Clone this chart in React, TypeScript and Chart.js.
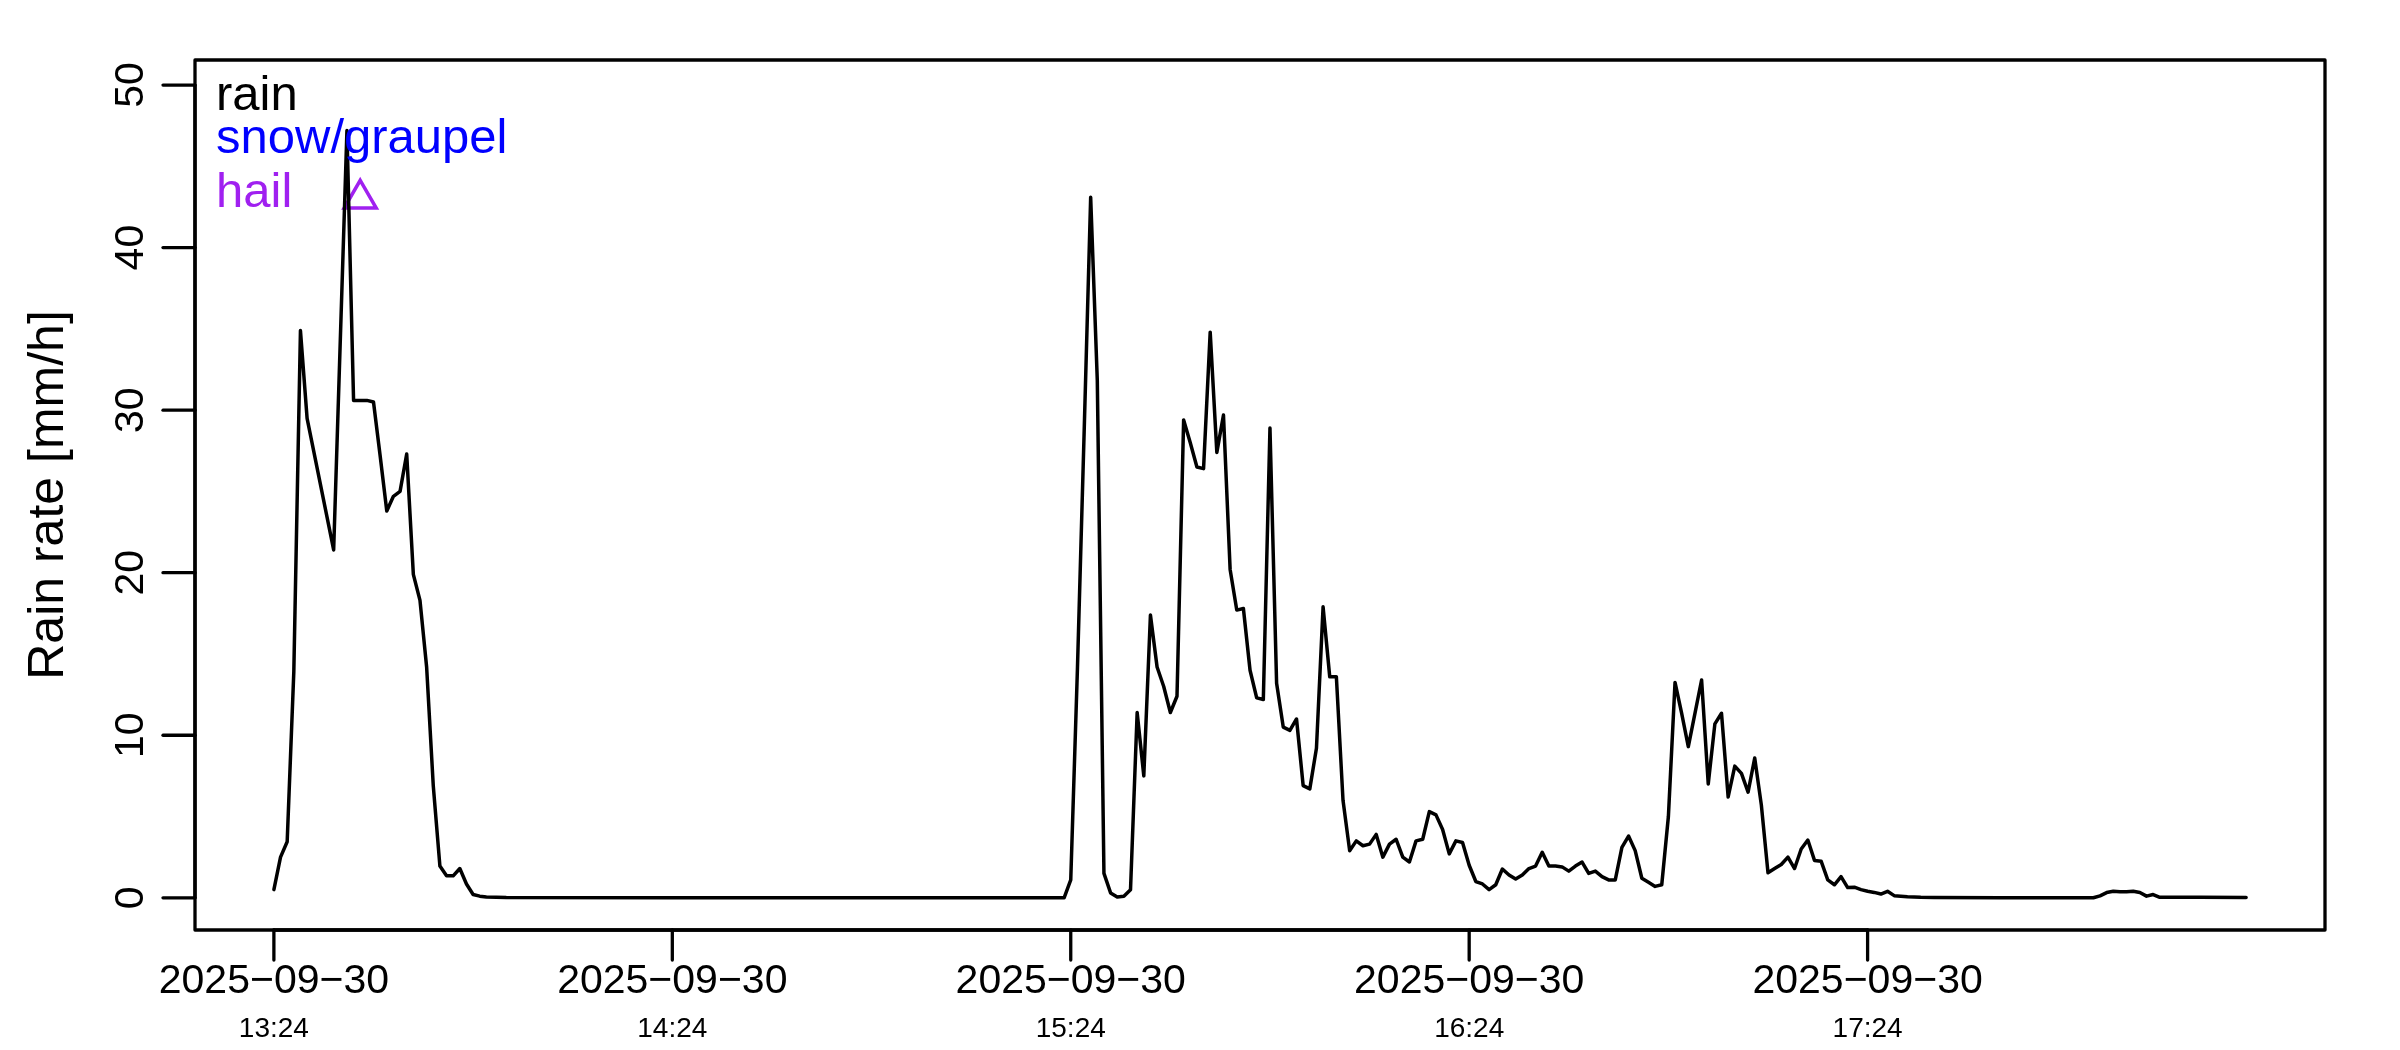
import React, { useEffect, useRef } from "react";
import { Chart, registerables } from "chart.js";

Chart.register(...registerables);

// minutes after 2025-09-30 13:24
const minutes: number[] = [
  0, 1, 2, 3, 4, 5, 9, 11, 12, 13, 14, 15, 16, 17, 18, 19, 20, 21, 22, 23, 24, 25, 26, 27, 28, 29, 30, 31, 32, 35, 60, 90, 119,
  120, 121, 122, 123, 124, 125, 126, 127, 128, 129, 130, 131, 132, 133, 134, 135, 136, 137, 138, 139, 140,
  141, 142, 143, 144, 145, 146, 147, 148, 149, 150, 151, 152, 153, 154, 155, 156, 157, 158, 159, 160,
  161, 162, 163, 164, 165, 166, 167, 168, 169, 170, 171, 172, 173, 174, 175, 176, 177, 178, 179, 180,
  181, 182, 183, 184, 185, 186, 187, 188, 189, 190, 191, 192, 193, 194, 195, 196, 197, 198, 199, 200,
  201, 202, 203, 204, 205, 206, 207, 208, 209, 210, 211, 212, 213, 214, 215, 216, 217, 218, 219, 220,
  221, 222, 223, 224, 225, 226, 227, 228, 229, 230, 231, 232, 233, 234, 235, 236, 237, 238, 239, 240,
  241, 242, 243, 244, 245, 246, 247, 248, 250, 260, 274, 275, 276, 277, 278, 279, 280, 281, 282, 283, 284,
  285, 290, 297,
];

// rain rate [mm/h]
const rainRate: number[] = [
  0.5, 2.5, 3.45, 13.9, 34.9, 29.5, 21.4, 47.2, 30.6, 30.6, 30.6, 30.5, 27.2, 23.8, 24.7, 25.0, 27.3, 19.9, 18.3, 14.2, 6.9, 1.95, 1.35, 1.35, 1.8, 0.85, 0.2, 0.1, 0.05, 0.02, 0.0, 0.0, 0.0,
  1.1, 14.0, 28.4, 43.1, 31.8, 1.5, 0.3, 0.05, 0.1, 0.5, 11.4, 7.5, 17.4, 14.2, 13.0, 11.4, 12.4, 29.4, 28.0, 26.5, 26.4,
  34.8, 27.4, 29.7, 20.2, 17.7, 17.8, 14.0, 12.3, 12.2, 28.9, 13.2, 10.5, 10.3, 11.0, 6.9, 6.7, 9.2, 17.9, 13.6, 13.6,
  6.0, 2.9, 3.5, 3.2, 3.3, 3.9, 2.5, 3.3, 3.6, 2.5, 2.2, 3.5, 3.6, 5.3, 5.1, 4.2, 2.7, 3.5, 3.4, 2.0,
  1.0, 0.85, 0.5, 0.8, 1.77, 1.4, 1.15, 1.4, 1.8, 1.95, 2.8, 1.95, 1.95, 1.9, 1.64, 1.95, 2.2, 1.5, 1.64, 1.3,
  1.1, 1.1, 3.1, 3.8, 2.9, 1.2, 0.95, 0.7, 0.8, 5.0, 13.25, 11.35, 9.3, 11.35, 13.4, 7.0, 10.7, 11.35, 6.2, 8.1,
  7.65, 6.5, 8.6, 5.7, 1.54, 1.8, 2.05, 2.5, 1.8, 3.0, 3.55, 2.3, 2.25, 1.1, 0.8, 1.3, 0.63, 0.65, 0.5, 0.4,
  0.33, 0.23, 0.4, 0.13, 0.1, 0.07, 0.05, 0.03, 0.02, 0.0, 0.0, 0.12, 0.32, 0.4, 0.37, 0.37, 0.4, 0.32, 0.1, 0.2, 0.03,
  0.04, 0.04, 0.02,
];

// hail observations
const hailMinutes: number[] = [13];
const hailRate: number[] = [43];

const legendLabels: string[] = ["rain", "snow/graupel", "hail"];
const legendColors: string[] = ["#000000", "#0000FF", "#A020F0"];

const yTicks: number[] = [0, 10, 20, 30, 40, 50];
const xTickMinutes: number[] = [0, 60, 120, 180, 240];
const xTickDates: string[] = ["2025−09−30", "2025−09−30", "2025−09−30", "2025−09−30", "2025−09−30"];
const xTickTimes: string[] = ["13:24", "14:24", "15:24", "16:24", "17:24"];
const yTitle = "Rain rate [mm/h]";

const FONT = '"Liberation Sans", Arial, Helvetica, sans-serif';

export default function App() {
  const ref = useRef<HTMLCanvasElement | null>(null);

  useEffect(() => {
    const canvas = ref.current;
    if (!canvas) return;

    const tMin = Math.min(...minutes);
    const tMax = Math.max(...minutes);
    const tPad = (tMax - tMin) * 0.04;
    const yTop = Math.max(...rainRate) * 1.05;
    const yPad = yTop * 0.04;

    const rPlot = {
      id: "rPlot",
      afterDraw(chart: any) {
        const ctx = chart.ctx as CanvasRenderingContext2D;
        const { left, right, top, bottom } = chart.chartArea;
        const xs = chart.scales.x;
        const ys = chart.scales.y;
        ctx.save();
        ctx.strokeStyle = "#000";
        ctx.fillStyle = "#000";
        ctx.lineWidth = 3.3;
        ctx.lineCap = "round";
        ctx.lineJoin = "round";
        // box
        ctx.strokeRect(left, top, right - left, bottom - top);

        // y axis
        ctx.beginPath();
        ctx.moveTo(left, ys.getPixelForValue(yTicks[0]));
        ctx.lineTo(left, ys.getPixelForValue(yTicks[yTicks.length - 1]));
        ctx.stroke();
        ctx.font = `41px ${FONT}`;
        ctx.textAlign = "center";
        ctx.textBaseline = "alphabetic";
        yTicks.forEach((v) => {
          const py = ys.getPixelForValue(v);
          ctx.beginPath();
          ctx.moveTo(left - 32, py);
          ctx.lineTo(left, py);
          ctx.stroke();
          ctx.save();
          ctx.translate(left - 52, py);
          ctx.rotate(-Math.PI / 2);
          ctx.fillText(String(v), 0, 0);
          ctx.restore();
        });

        // x axis
        ctx.beginPath();
        ctx.moveTo(xs.getPixelForValue(xTickMinutes[0]), bottom);
        ctx.lineTo(xs.getPixelForValue(xTickMinutes[xTickMinutes.length - 1]), bottom);
        ctx.stroke();
        xTickMinutes.forEach((m, i) => {
          const px = xs.getPixelForValue(m);
          ctx.beginPath();
          ctx.moveTo(px, bottom);
          ctx.lineTo(px, bottom + 30);
          ctx.stroke();
          ctx.font = `41px ${FONT}`;
          ctx.fillText(xTickDates[i], px, bottom + 63);
          ctx.font = `28px ${FONT}`;
          ctx.fillText(xTickTimes[i], px, bottom + 107);
        });

        // y title
        ctx.save();
        ctx.font = `50px ${FONT}`;
        ctx.translate(63, (top + bottom) / 2);
        ctx.rotate(-Math.PI / 2);
        ctx.fillText(yTitle, 0, 0);
        ctx.restore();

        // legend text
        const baselines = [50, 93, 147];
        ctx.font = `49px ${FONT}`;
        ctx.textAlign = "left";
        legendLabels.forEach((lab, i) => {
          ctx.fillStyle = legendColors[i];
          ctx.fillText(lab, left + 21, top + baselines[i]);
        });
        ctx.restore();
      },
    };

    const chart = new Chart(canvas, {
      type: "line",
      data: {
        datasets: [
          {
            label: "rain",
            data: minutes.map((m, i) => ({ x: m, y: rainRate[i] })),
            borderColor: "#000000",
            borderWidth: 3.5,
            pointRadius: 0,
            tension: 0,
            fill: false,
            borderJoinStyle: "round",
            borderCapStyle: "round",
          },
          {
            label: "hail",
            data: hailMinutes.map((m, i) => ({ x: m, y: hailRate[i] })),
            showLine: false,
            pointStyle: "triangle",
            pointRadius: 18.5,
            pointBorderWidth: 3.5,
            pointBorderColor: "#A020F0",
            pointBackgroundColor: "rgba(0,0,0,0)",
            borderColor: "#A020F0",
            backgroundColor: "rgba(0,0,0,0)",
          },
        ],
      },
      options: {
        animation: false,
        responsive: false,
        devicePixelRatio: 1,
        layout: { padding: { left: 195, right: 75, top: 60, bottom: 120 } },
        plugins: { legend: { display: false }, tooltip: { enabled: false }, title: { display: false } },
        scales: {
          x: { type: "linear", min: tMin - tPad, max: tMax + tPad, display: false },
          y: { type: "linear", min: -yPad, max: yTop + yPad, display: false },
        },
      },
      plugins: [rPlot],
    } as any);

    return () => chart.destroy();
  }, []);

  return (
    <div style={{ position: "fixed", left: 0, top: 0, width: 2400, height: 1050, background: "#fff" }}>
      <canvas ref={ref} width={2400} height={1050} style={{ display: "block", width: 2400, height: 1050 }} />
    </div>
  );
}
